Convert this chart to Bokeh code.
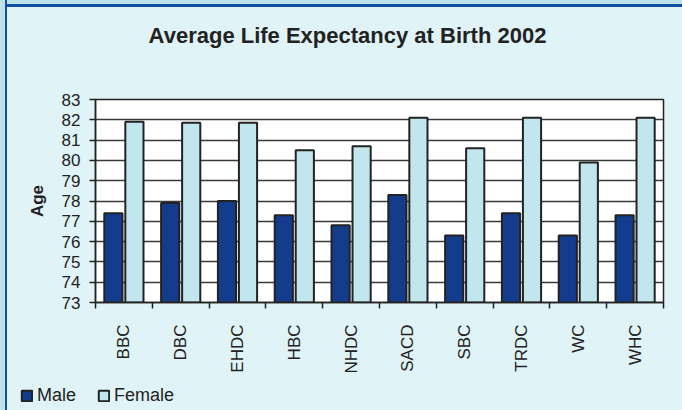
from math import pi
from bokeh.plotting import figure
from bokeh.layouts import column
from bokeh.models import (Range1d, FixedTicker, Legend, LegendItem, Label,
                          ColumnDataSource)
from bokeh.embed import file_html
from bokeh.resources import INLINE

# ---- data ----
categories = ["BBC", "DBC", "EHDC", "HBC", "NHDC", "SACD", "SBC", "TRDC", "WC", "WHC"]
male = [77.4, 77.9, 78.0, 77.3, 76.8, 78.3, 76.3, 77.4, 76.3, 77.3]
female = [81.9, 81.85, 81.85, 80.5, 80.7, 82.1, 80.6, 82.1, 79.9, 82.1]
y_ticks = [73, 74, 75, 76, 77, 78, 79, 80, 81, 82, 83]
title_text = "Average Life Expectancy at Birth 2002"
y_label = "Age"
series_names = ["Male", "Female"]

FONT = "Liberation Sans"
MALE_C = "#143c8c"
FEMALE_C = "#c2e6ed"
EDGE = "#222222"
PANEL = "#e0f3f6"
STRIP = "#bfe2e9"
BORDER = "#1150a0"

x_pos = list(range(len(categories)))
OFF = 0.185
source = ColumnDataSource(dict(
    xm=[x - OFF for x in x_pos],
    xf=[x + OFF for x in x_pos],
    male=male,
    female=female,
))

p = figure(frame_width=568, frame_height=203,
           x_range=Range1d(-0.5, len(categories) - 0.5),
           y_range=Range1d(y_ticks[0], y_ticks[-1]),
           output_backend="svg", toolbar_location=None,
           min_border_left=95, min_border_right=19,
           min_border_top=99, min_border_bottom=78,
           background_fill_color="white", border_fill_color=None,
           outline_line_color=EDGE, outline_line_width=1.5)

base = y_ticks[0]
rm = p.vbar(x="xm", top="male", bottom=base, width=0.32, source=source,
            fill_color=MALE_C, line_color=EDGE, line_width=2)
rf = p.vbar(x="xf", top="female", bottom=base, width=0.32, source=source,
            fill_color=FEMALE_C, line_color=EDGE, line_width=2)

# grids
p.xgrid.visible = False
p.ygrid.ticker = FixedTicker(ticks=y_ticks)
p.ygrid.grid_line_color = "#3a3a3a"
p.ygrid.grid_line_width = 1.5

# y axis
ya = p.yaxis[0]
ya.ticker = FixedTicker(ticks=y_ticks)
ya.axis_label = y_label
ya.axis_label_text_font = FONT
ya.axis_label_text_font_style = "bold"
ya.axis_label_text_font_size = "17px"
ya.axis_label_text_color = "#222222"
ya.axis_label_standoff = 12
ya.major_label_text_font = FONT
ya.major_label_text_font_size = "17px"
ya.major_label_text_color = "#222222"
ya.major_label_standoff = 9
ya.major_tick_out = 6
ya.major_tick_in = 0
ya.minor_tick_out = 0
ya.minor_tick_in = 0
ya.axis_line_color = EDGE
ya.axis_line_width = 1.5
ya.major_tick_line_color = EDGE
ya.major_tick_line_width = 1.5

# x axis: labels at category centres, ticks at category boundaries
xa = p.xaxis[0]
xa.ticker = FixedTicker(ticks=x_pos, minor_ticks=[x - 0.5 for x in range(len(categories) + 1)])
xa.major_label_overrides = {x: c for x, c in zip(x_pos, categories)}
xa.major_label_orientation = pi / 2
xa.major_label_text_font = FONT
xa.major_label_text_font_size = "17px"
xa.major_label_text_color = "#222222"
xa.major_label_standoff = 16
xa.major_tick_out = 0
xa.major_tick_in = 0
xa.minor_tick_out = 6
xa.minor_tick_in = 0
xa.minor_tick_line_color = EDGE
xa.minor_tick_line_width = 1.5
xa.axis_line_color = EDGE
xa.axis_line_width = 1.5

# title (placed in the top border panel)
p.add_layout(Label(x=252, y=64, x_units="screen", y_units="screen",
                   text=title_text, text_align="center", text_baseline="middle",
                   text_font=FONT, text_font_style="bold", text_font_size="22px",
                   text_color="#222222"), "above")

# ---- legend strip under the chart ----
# The same series are attached here only to supply the legend swatches;
# the renderers are hidden, and the legend's inactive overlay is made clear.
lf = figure(frame_width=682, frame_height=30,
            x_range=Range1d(-0.5, len(categories) - 0.5),
            y_range=Range1d(y_ticks[0], y_ticks[-1]),
            x_axis_location=None, y_axis_location=None,
            output_backend="svg", toolbar_location=None,
            min_border=0, background_fill_color=None, border_fill_color=None,
            outline_line_color=None)
lf.xgrid.visible = False
lf.ygrid.visible = False
lm = lf.vbar(x="xm", top="male", bottom=base, width=0.32, source=source,
             fill_color=MALE_C, line_color=EDGE, line_width=2)
lfe = lf.vbar(x="xf", top="female", bottom=base, width=0.32, source=source,
              fill_color=FEMALE_C, line_color=EDGE, line_width=2)
lm.visible = False
lfe.visible = False

legend = Legend(items=[LegendItem(label=series_names[0], renderers=[lm]),
                       LegendItem(label=series_names[1], renderers=[lfe])],
                orientation="horizontal", location=(20, 4),
                padding=0, margin=0, spacing=21, label_standoff=4,
                glyph_width=13, glyph_height=13,
                label_text_font=FONT, label_text_font_size="18px",
                label_text_color="#222222",
                inactive_fill_alpha=0,
                border_line_color=None, background_fill_alpha=0)
lf.add_layout(legend)

layout = column(p, lf, spacing=0)
layout.styles = {
    "background": ("linear-gradient(to right, %s 0px, %s 5px, %s 5px, %s 7px, transparent 7px), "
                   "linear-gradient(to bottom, %s 0px, %s 4px, %s 4px, %s 7px, %s 7px)")
                  % (STRIP, STRIP, BORDER, BORDER, STRIP, STRIP, BORDER, BORDER, PANEL),
}

open("out.html", "w").write(file_html(layout, INLINE))
